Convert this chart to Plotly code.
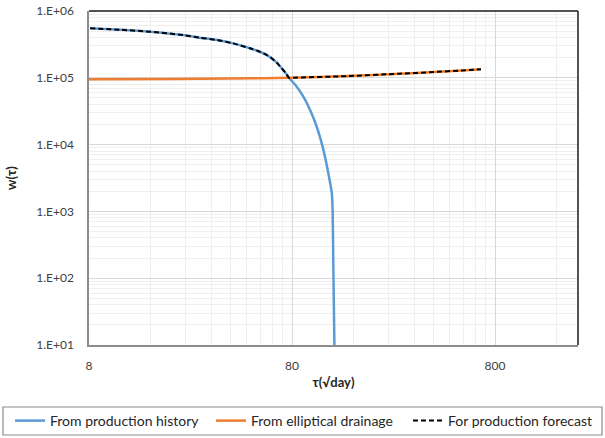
import plotly.graph_objects as go

# tau (sqrt(day)) and w(tau) for the production-history curve
hist_tau = [8.1, 11.4, 16.0, 23.2, 28.2, 34.2, 41.0, 49.6, 54.4, 60.2, 63.7, 67.5, 72.3, 74.7, 77.5,
            78.2, 84.4, 91.0, 98.2, 105.9, 112.0, 117.2, 121.7, 125.6, 126.8, 127.7, 129.4]
hist_w = [5.5e5, 5.24e5, 4.9e5, 4.37e5, 3.98e5, 3.68e5, 3.28e5, 2.77e5, 2.52e5, 2.19e5, 1.95e5, 1.67e5, 1.31e5, 1.16e5, 9.93e4,
          9.6e4, 7.36e4, 5.21e4, 3.3e4, 1.85e4, 1.05e4, 5.9e3, 3.3e3, 1.87e3, 1.05e3, 187, 10]

# elliptical-drainage curve
ell_tau = [8, 20, 40, 80, 150, 270, 400, 550, 682]
ell_w = [9.5e4, 9.6e4, 9.8e4, 1.0e5, 1.06e5, 1.15e5, 1.22e5, 1.29e5, 1.34e5]

# forecast: history up to the intersection, then elliptical drainage
fc_tau = [8.1, 11.4, 16.0, 23.2, 28.2, 34.2, 41.0, 49.6, 54.4, 60.2, 63.7, 67.5, 72.3, 74.7, 77.5,
          80, 150, 270, 400, 550, 682]
fc_w = [5.5e5, 5.24e5, 4.9e5, 4.37e5, 3.98e5, 3.68e5, 3.28e5, 2.77e5, 2.52e5, 2.19e5, 1.95e5, 1.67e5, 1.31e5, 1.16e5, 9.93e4,
        1.0e5, 1.06e5, 1.15e5, 1.22e5, 1.29e5, 1.34e5]

x_ticks = [8, 80, 800]
y_ticks = [1e1, 1e2, 1e3, 1e4, 1e5, 1e6]
y_labels = ["1.E+01", "1.E+02", "1.E+03", "1.E+04", "1.E+05", "1.E+06"]

FONT = "Lato"
W, H = 605, 438

fig = go.Figure()
fig.add_trace(go.Scatter(x=hist_tau, y=hist_w, mode="lines", name="From production history",
                         line=dict(color="#5B9BD5", width=2.5, shape="spline", smoothing=0.6),
                         legend="legend"))
fig.add_trace(go.Scatter(x=ell_tau, y=ell_w, mode="lines", name="From elliptical drainage",
                         line=dict(color="#ED7D31", width=2.5, shape="spline", smoothing=0.6),
                         legend="legend2"))
fig.add_trace(go.Scatter(x=fc_tau, y=fc_w, mode="lines", name="For production forecast",
                         line=dict(color="#000000", width=2, dash="5px,3px", shape="spline", smoothing=0.6),
                         legend="legend3"))

x_minor = [8 * k * 10 ** n for n in range(3) for k in range(2, 10)]
y_minor = [k * 10 ** n for n in range(1, 6) for k in range(2, 10)]

tickfont = dict(family=FONT, size=12, color="#404040")
titlefont = dict(family=FONT, size=13, color="#262626")

fig.update_xaxes(type="log", range=[0.90309, 3.3118],
                 tickvals=x_ticks, ticktext=[str(v) for v in x_ticks],
                 showgrid=True, gridcolor="#d9d9d9", gridwidth=1,
                 minor=dict(tickvals=x_minor, showgrid=True, gridcolor="#efefef", gridwidth=1, ticks=""),
                 showline=True, linecolor="#8c8c8c", linewidth=1.5, zeroline=False,
                 ticks="", tickfont=tickfont, ticklabelstandoff=9,
                 title=dict(text="<b>τ(√day)</b>", font=titlefont, standoff=6))
fig.update_yaxes(type="log", range=[1, 6],
                 tickvals=y_ticks, ticktext=y_labels,
                 showgrid=True, gridcolor="#d9d9d9", gridwidth=1,
                 minor=dict(tickvals=y_minor, showgrid=True, gridcolor="#efefef", gridwidth=1, ticks=""),
                 showline=True, linecolor="#8c8c8c", linewidth=1.5, zeroline=False,
                 ticks="", tickfont=tickfont, ticklabelstandoff=11,
                 title=dict(text="<b>w(τ)</b>", font=titlefont, standoff=17))

# dark frame along the top and right of the plotting area
fig.add_shape(type="line", xref="paper", yref="paper", x0=0, x1=1, y0=1, y1=1,
              line=dict(color="#1a1a1a", width=1.5))
fig.add_shape(type="line", xref="paper", yref="paper", x0=1, x1=1, y0=0, y1=1,
              line=dict(color="#1a1a1a", width=1.5))

# legend box
fig.add_shape(type="rect", xref="paper", yref="paper",
              x0=(3 - 89) / 489, x1=(602 - 89) / 489,
              y0=-(435 - 345) / 334, y1=-(407 - 345) / 334,
              line=dict(color="#8c8c8c", width=1.2), fillcolor="rgba(0,0,0,0)")

legfont = dict(family=FONT, size=14, color="#262626")


def legend_at(px):
    return dict(orientation="h", xref="container", yref="container",
                x=px / W, y=1 - 421 / H, xanchor="left", yanchor="middle",
                font=legfont, bgcolor="rgba(0,0,0,0)", borderwidth=0, itemwidth=30)


fig.update_layout(
    width=W, height=H,
    margin=dict(l=89, r=27, t=11, b=93, autoexpand=False),
    paper_bgcolor="white", plot_bgcolor="white",
    font=dict(family=FONT, color="#262626"),
    legend=legend_at(10), legend2=legend_at(211), legend3=legend_at(408),
    showlegend=True,
)

fig.write_html("out.html")
